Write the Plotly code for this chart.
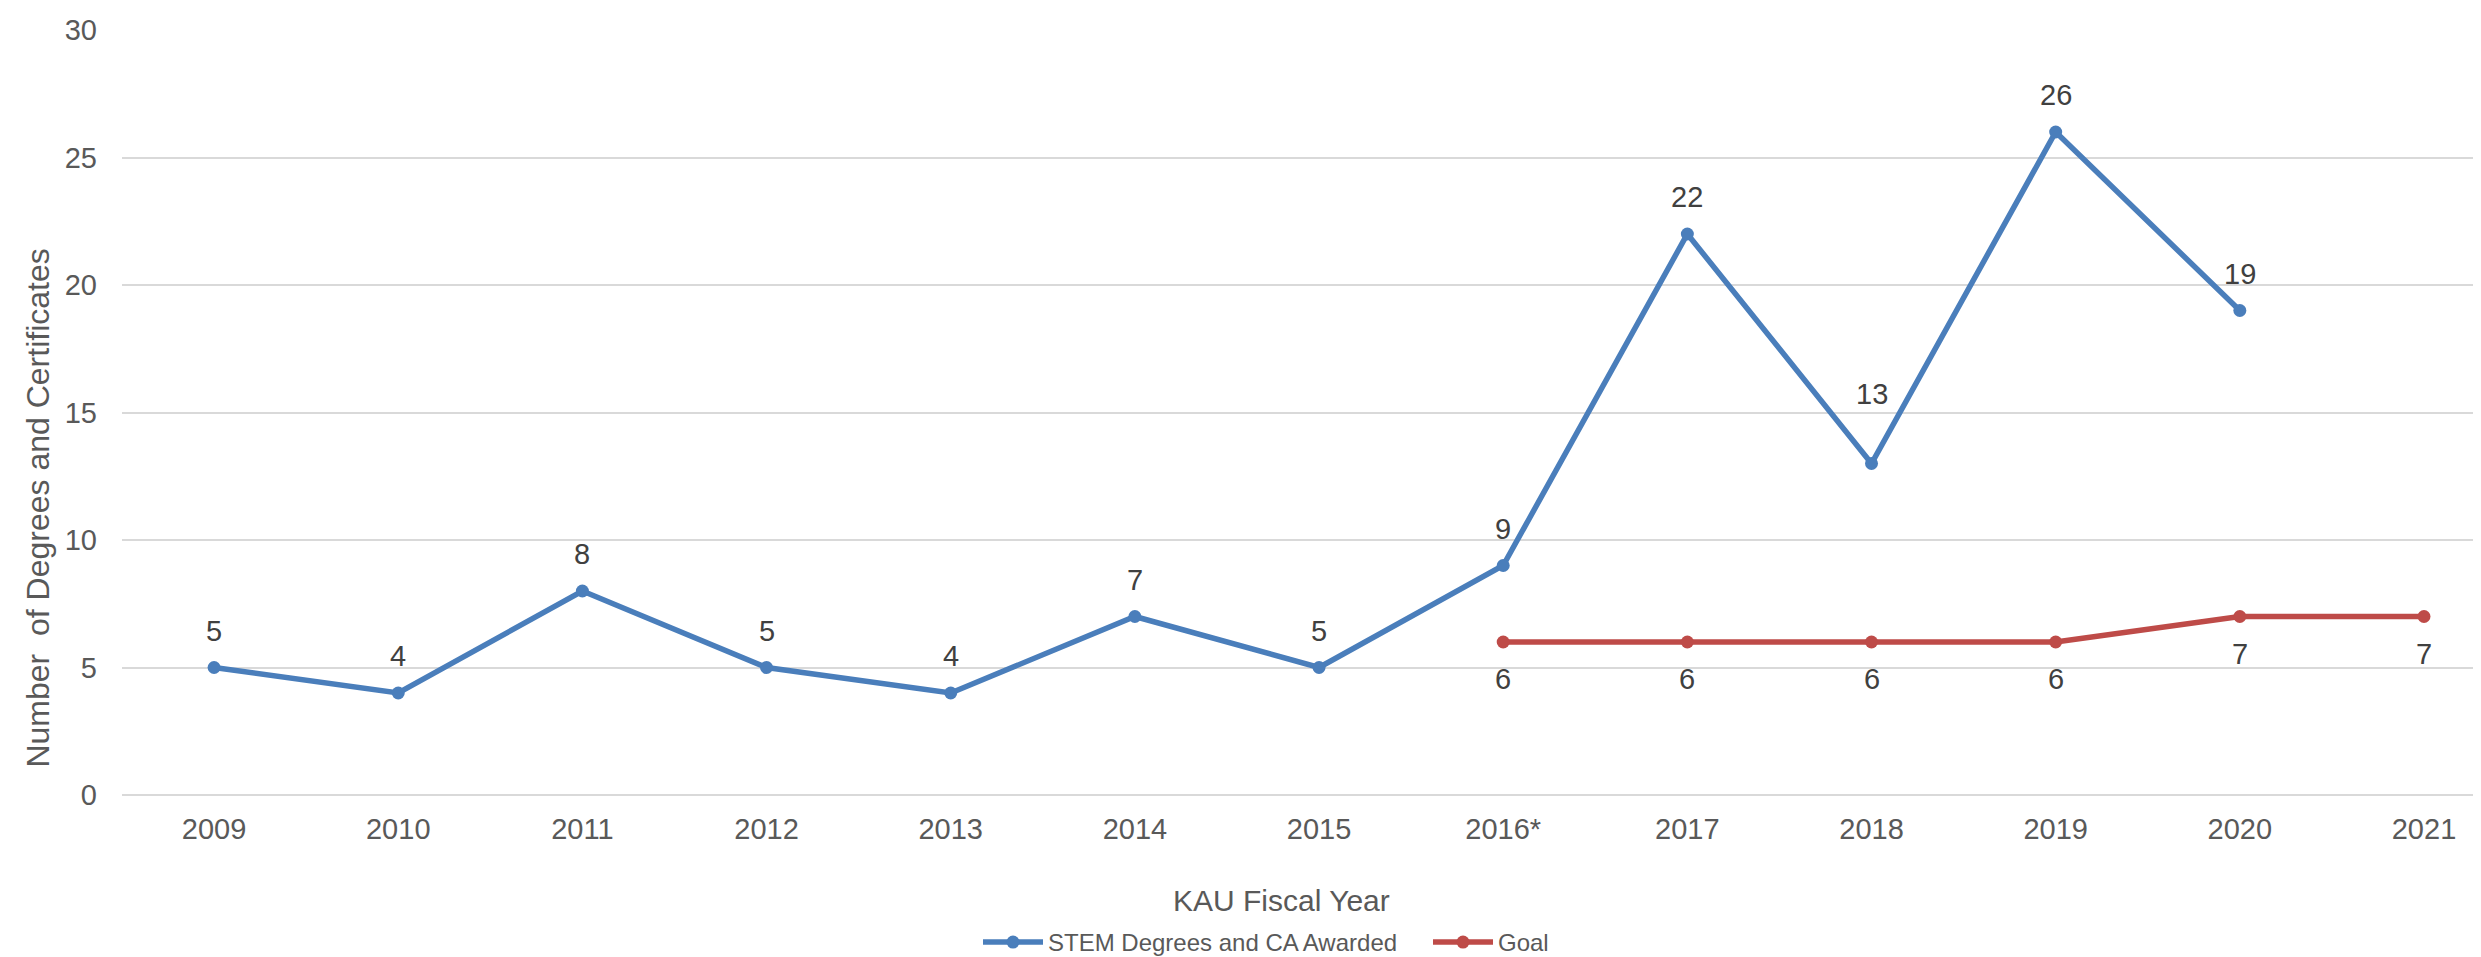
import plotly.graph_objects as go

years = ["2009", "2010", "2011", "2012", "2013", "2014", "2015",
         "2016*", "2017", "2018", "2019", "2020", "2021"]
stem_awarded = [5, 4, 8, 5, 4, 7, 5, 9, 22, 13, 26, 19, None]
goal = [None, None, None, None, None, None, None, 6, 6, 6, 6, 7, 7]
y_ticks = [0, 5, 10, 15, 20, 25, 30]

BLUE = "#4a7ebb"
RED = "#be4b48"
FONT = "Liberation Sans, Arial, sans-serif"

# label placement (pixels above the point); one label was moved higher in the original
STEM_LABEL_SHIFT = 37
STEM_LABEL_SHIFT_OVERRIDE = {"2018": 70}
GOAL_LABEL_SHIFT = -37

W, H = 2481, 957
ML, MR, MT, MB = 114, 0, 22, 163
PW = W - ML - MR
PH = H - MT - MB


def px_to_paper_x(px):
    return (px - ML) / PW


def px_to_paper_y(py):
    return (H - MB - py) / PH


fig = go.Figure()
fig.add_trace(go.Scatter(
    x=years, y=stem_awarded, mode="lines+markers",
    name="STEM Degrees and CA Awarded",
    line=dict(color=BLUE, width=5.5),
    marker=dict(color=BLUE, size=13),
))
fig.add_trace(go.Scatter(
    x=years, y=goal, mode="lines+markers", name="Goal",
    line=dict(color=RED, width=5.5),
    marker=dict(color=RED, size=13),
))

annotations = []
for i, v in enumerate(stem_awarded):
    if v is not None:
        shift = STEM_LABEL_SHIFT_OVERRIDE.get(years[i], STEM_LABEL_SHIFT)
        annotations.append(dict(x=i, y=v, xref="x", yref="y", text=str(v),
                                showarrow=False, yshift=shift,
                                font=dict(family=FONT, size=29, color="#404040")))
for i, v in enumerate(goal):
    if v is not None:
        annotations.append(dict(x=i, y=v, xref="x", yref="y", text=str(v),
                                showarrow=False, yshift=GOAL_LABEL_SHIFT,
                                font=dict(family=FONT, size=29, color="#404040")))

annotations.append(dict(
    text="Number  of Degrees and Certificates", textangle=-90,
    xref="paper", yref="paper", x=px_to_paper_x(30), y=px_to_paper_y(505),
    xanchor="center", yanchor="middle", showarrow=False,
    font=dict(family=FONT, size=32, color="#595959")))
annotations.append(dict(
    text="KAU Fiscal Year",
    xref="paper", yref="paper", x=px_to_paper_x(1273), y=px_to_paper_y(900),
    xanchor="center", yanchor="middle", showarrow=False,
    font=dict(family=FONT, size=30, color="#595959")))

fig.update_layout(
    width=W, height=H,
    margin=dict(l=ML, r=MR, t=MT, b=MB),
    paper_bgcolor="white", plot_bgcolor="white",
    font=dict(family=FONT, color="#595959"),
    showlegend=True,
    legend=dict(orientation="h", x=px_to_paper_x(970), y=px_to_paper_y(943),
                xanchor="left", yanchor="middle",
                font=dict(family=FONT, size=24, color="#595959"),
                itemwidth=60, entrywidth=375, entrywidthmode="pixels"),
    annotations=annotations,
    xaxis=dict(type="category", categoryorder="array", categoryarray=years,
               range=[-0.5, 12.353], showgrid=False, zeroline=False,
               showline=False, ticks="", ticklabelstandoff=14,
               tickfont=dict(family=FONT, size=29, color="#595959")),
    yaxis=dict(range=[0, 30], tickvals=y_ticks, showgrid=True,
               gridcolor="#d9d9d9", gridwidth=2, zeroline=True,
               zerolinecolor="#d9d9d9", zerolinewidth=2, showline=False,
               ticks="", ticklabelstandoff=24,
               tickfont=dict(family=FONT, size=29, color="#595959")),
)

fig.write_html("out.html")
